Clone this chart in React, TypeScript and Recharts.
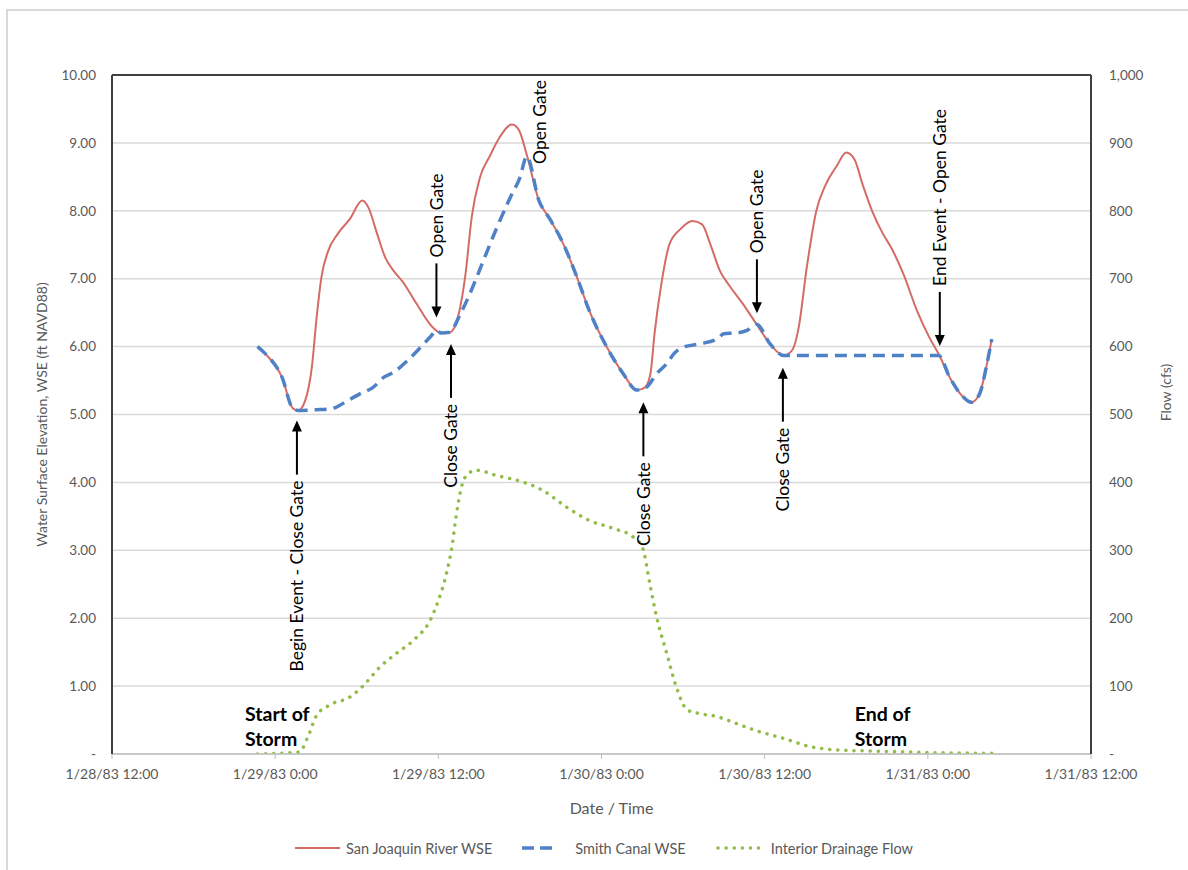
import React from 'react';
import {
  LineChart,
  Line,
  XAxis,
  YAxis,
  CartesianGrid,
  ReferenceLine,
  ReferenceDot,
  Legend,
} from 'recharts';

// ---------- axis ticks ----------
const tickHours = [0, 12, 24, 36, 48, 60, 72];
const tickLabels = [
  '1/28/83 12:00',
  '1/29/83 0:00',
  '1/29/83 12:00',
  '1/30/83 0:00',
  '1/30/83 12:00',
  '1/31/83 0:00',
  '1/31/83 12:00',
];
const wseTicks = [0, 1, 2, 3, 4, 5, 6, 7, 8, 9, 10];
const flowTicks = [0, 100, 200, 300, 400, 500, 600, 700, 800, 900, 1000];

// ---------- series (hours after 1/28/83 12:00) ----------
const riverHours = [
  10.7, 11.25, 12.5, 13.3, 13.7, 14.2, 14.7, 15.05, 15.4, 15.9, 16.6, 17.5, 18.4, 18.85,
  19.5, 20.1, 20.7, 21.4, 22.4, 23.6, 24.2, 24.85, 25.5, 26.0, 26.45, 27.06, 27.8, 28.5,
  29.4, 29.9, 30.5, 31.4, 32.2, 33.2, 34.2, 35.1, 36.4, 37.6, 38.6, 39.2, 39.6, 39.9,
  40.4, 41.0, 41.8, 42.7, 43.4, 44.0, 44.7, 45.4, 46.4, 47.4, 48.4, 49.4, 50.0, 50.5,
  51.1, 51.8, 52.5, 53.3, 54.0, 54.6, 55.2, 55.9, 56.7, 57.3, 58.2, 59.2, 60.1, 60.8,
  61.6, 62.5, 63.2, 63.8, 64.3, 64.7,
];
const riverWSE = [
  6.0, 5.9, 5.55, 5.09, 5.06, 5.2, 5.7, 6.43, 7.02, 7.41, 7.66, 7.88, 8.15, 8.05,
  7.66, 7.31, 7.12, 6.95, 6.63, 6.28, 6.2, 6.21, 6.48, 7.07, 7.9, 8.49, 8.81, 9.08,
  9.27, 9.2, 8.83, 8.15, 7.88, 7.51, 7.02, 6.53, 5.99, 5.6, 5.36, 5.4, 5.6, 6.19,
  6.92, 7.51, 7.73, 7.85, 7.8, 7.51, 7.12, 6.9, 6.63, 6.33, 6.04, 5.87, 5.94, 6.28,
  7.17, 8.0, 8.39, 8.66, 8.86, 8.76, 8.39, 8.0, 7.66, 7.46, 7.07, 6.53, 6.14, 5.89,
  5.55, 5.28, 5.18, 5.3, 5.7, 6.11,
];

const canalHours = [
  10.7, 11.25, 12.5, 13.3, 13.7, 15.05, 16.0, 16.5, 17.3, 18.2, 19.2, 20.0, 20.7, 21.7,
  22.6, 23.4, 23.9, 24.2, 24.85, 25.5, 26.3, 27.3, 28.3, 29.3, 30.0, 30.5, 31.4, 32.2,
  33.2, 34.2, 35.1, 36.4, 37.6, 38.6, 39.3, 40.05, 40.8, 41.3, 42.0, 43.2, 44.5, 45.0,
  45.9, 46.7, 47.4, 48.4, 49.4, 52.0, 56.0, 60.8, 61.6, 62.5, 63.2, 63.8, 64.3, 64.7,
];
const canalWSE = [
  6.0, 5.9, 5.55, 5.09, 5.06, 5.07, 5.08, 5.11, 5.2, 5.3, 5.4, 5.55, 5.62, 5.79,
  5.97, 6.14, 6.24, 6.2, 6.21, 6.43, 6.77, 7.26, 7.75, 8.2, 8.49, 8.8, 8.15, 7.88,
  7.51, 7.02, 6.53, 5.99, 5.6, 5.36, 5.4, 5.6, 5.75, 5.89, 5.99, 6.04, 6.11, 6.19,
  6.2, 6.24, 6.33, 6.04, 5.87, 5.87, 5.87, 5.87, 5.55, 5.28, 5.18, 5.3, 5.7, 6.11,
];

const flowHours = [
  10.7, 13.8, 14.4, 15.05, 16.0, 17.5, 18.5, 19.7, 20.9, 22.2, 23.4, 24.0, 24.6, 25.0,
  25.3, 25.7, 26.2, 26.8, 28.3, 30.3, 31.7, 33.4, 35.1, 36.9, 38.3, 39.0, 39.6, 40.05,
  40.8, 41.5, 42.3, 43.1, 44.5, 45.9, 47.6, 49.4, 51.3, 53.3, 56.7, 60.4, 64.7,
];
const drainageFlow = [
  0, 3, 25, 57, 72, 84, 101, 128, 148, 168, 197, 226, 266, 305,
  349, 393, 413, 418, 410, 400, 388, 364, 344, 332, 320, 305, 246, 202,
  148, 99, 65, 60, 55, 45, 33, 23, 11, 6, 4, 2, 1,
];

// ---------- annotations ----------
const gateNotes = [
  { label: 'Begin Event - Close Gate', hour: 13.6, wse: 4.91, dir: 'up' },
  { label: 'Open Gate', hour: 23.86, wse: 6.43, dir: 'down' },
  { label: 'Close Gate', hour: 24.93, wse: 6.04, dir: 'up' },
  { label: 'Open Gate', hour: 31.45, wse: 8.69, dir: 'none' },
  { label: 'Close Gate', hour: 39.08, wse: 5.18, dir: 'up' },
  { label: 'Open Gate', hour: 47.43, wse: 6.49, dir: 'down' },
  { label: 'Close Gate', hour: 49.34, wse: 5.69, dir: 'up' },
  { label: 'End Event - Open Gate', hour: 60.88, wse: 6.01, dir: 'down' },
];
const stormNotes = [
  { lines: ['Start of', 'Storm'], hour: 9.78, wse: 0.6 },
  { lines: ['End of', 'Storm'], hour: 54.63, wse: 0.6 },
];

const seriesNames = ['San Joaquin River WSE', 'Smith Canal WSE', 'Interior Drainage Flow'];

const FONT = 'Lato, "Open Sans", sans-serif';
const GRAY_TEXT = '#595959';
const RED = '#d46b67';
const BLUE = '#4f81c6';
const GREEN = '#92bc48';

const zip = (h: number[], v: number[]) => h.map((t, i) => ({ t, v: v[i] }));
const riverData = zip(riverHours, riverWSE);
const canalData = zip(canalHours, canalWSE);
const flowData = zip(flowHours, drainageFlow);

const GateNote = (props: any) => {
  const { cx, cy, note } = props;
  const shaft = 54;
  const head = 11;
  const gap = 6;
  const textStyle = { fontFamily: FONT, fontSize: 17.5, fill: '#000' };
  if (note.dir === 'none') {
    return (
      <text
        x={cx}
        y={cy}
        transform={`rotate(-90 ${cx} ${cy})`}
        textAnchor="start"
        dominantBaseline="central"
        style={textStyle}
      >
        {note.label}
      </text>
    );
  }
  if (note.dir === 'up') {
    const ty = cy + shaft + gap;
    return (
      <g>
        <polygon points={`${cx},${cy} ${cx - 5},${cy + head} ${cx + 5},${cy + head}`} fill="#000" />
        <line x1={cx} y1={cy + head - 1} x2={cx} y2={cy + shaft} stroke="#000" strokeWidth={2} />
        <text
          x={cx}
          y={ty}
          transform={`rotate(-90 ${cx} ${ty})`}
          textAnchor="end"
          dominantBaseline="central"
          style={textStyle}
        >
          {note.label}
        </text>
      </g>
    );
  }
  const ty = cy - shaft - gap;
  return (
    <g>
      <polygon points={`${cx},${cy} ${cx - 5},${cy - head} ${cx + 5},${cy - head}`} fill="#000" />
      <line x1={cx} y1={cy - head + 1} x2={cx} y2={cy - shaft} stroke="#000" strokeWidth={2} />
      <text
        x={cx}
        y={ty}
        transform={`rotate(-90 ${cx} ${ty})`}
        textAnchor="start"
        dominantBaseline="central"
        style={textStyle}
      >
        {note.label}
      </text>
    </g>
  );
};

const StormNote = (props: any) => {
  const { cx, cy, note } = props;
  return (
    <g>
      {note.lines.map((ln: string, i: number) => (
        <text
          key={i}
          x={cx}
          y={cy + i * 25}
          textAnchor="start"
          dominantBaseline="central"
          style={{ fontFamily: FONT, fontSize: 19.5, fontWeight: 700, fill: '#000' }}
        >
          {ln}
        </text>
      ))}
    </g>
  );
};

const legendSamples = [
  { color: RED, width: 2, dash: undefined as string | undefined, cap: 'butt', len: 45, gap: 6 },
  { color: BLUE, width: 3.5, dash: '12 6', cap: 'butt', len: 30, gap: 23 },
  { color: GREEN, width: 3.5, dash: '0.1 8', cap: 'round', len: 50, gap: 5 },
];

const renderLegend = () => (
  <div
    style={{
      display: 'flex',
      justifyContent: 'center',
      alignItems: 'center',
      height: 24,
      fontFamily: FONT,
      fontSize: 14.5,
      color: GRAY_TEXT,
      paddingLeft: 20,
      whiteSpace: 'nowrap',
    }}
  >
    {seriesNames.map((name, i) => {
      const s = legendSamples[i];
      return (
        <div key={name} style={{ display: 'flex', alignItems: 'center', marginRight: i < 2 ? 30 : 0 }}>
          <svg width={s.len} height={10} style={{ marginRight: s.gap }}>
            <line
              x1={s.cap === 'round' ? 2 : 0}
              y1={5}
              x2={s.len}
              y2={5}
              stroke={s.color}
              strokeWidth={s.width}
              strokeDasharray={s.dash}
              strokeLinecap={s.cap as any}
            />
          </svg>
          <span>{name}</span>
        </div>
      );
    })}
  </div>
);

export default function App() {
  return (
    <div
      style={{
        position: 'fixed',
        left: 0,
        top: 0,
        width: 1188,
        height: 870,
        overflow: 'hidden',
        background: '#fff',
      }}
    >
      <div
        style={{
          position: 'absolute',
          left: 6,
          top: 9,
          width: 1210,
          height: 890,
          border: '2px solid #d9d9d9',
          boxSizing: 'border-box',
        }}
      />
      <div style={{ position: 'absolute', left: 0, top: 0 }}>
        <LineChart width={1188} height={870} margin={{ top: 75, right: 0, bottom: 10, left: 0 }}>
          <CartesianGrid yAxisId="wse" vertical={false} stroke="#d9d9d9" strokeWidth={1.5} />
          <XAxis
            dataKey="t"
            type="number"
            domain={[0, 72]}
            ticks={tickHours}
            interval={0}
            allowDataOverflow
            height={82}
            tickFormatter={(v: number) => tickLabels[tickHours.indexOf(v)] ?? ''}
            tick={{ fill: GRAY_TEXT, fontSize: 14, fontFamily: FONT }}
            axisLine={{ stroke: '#bfbfbf', strokeWidth: 1.5 }}
            tickLine={{ stroke: '#bfbfbf' }}
            tickSize={5}
            tickMargin={10}
            label={{
              value: 'Date / Time',
              position: 'insideBottom',
              offset: 22,
              dx: 10,
              style: { fill: GRAY_TEXT, fontSize: 16, fontFamily: FONT },
            }}
          />
          <YAxis
            yAxisId="wse"
            orientation="left"
            domain={[0, 10]}
            ticks={wseTicks}
            interval={0}
            width={112}
            allowDataOverflow
            tickFormatter={(v: number) => (v === 0 ? '-' : v.toFixed(2))}
            tick={{ fill: GRAY_TEXT, fontSize: 13.5, fontFamily: FONT }}
            axisLine={{ stroke: '#404040', strokeWidth: 2 }}
            tickLine={false}
            tickSize={0}
            tickMargin={16}
            label={{
              value: 'Water Surface Elevation, WSE (ft NAVD88)',
              angle: -90,
              position: 'center',
              dx: -14,
              style: { fill: GRAY_TEXT, fontSize: 14, fontFamily: FONT, textAnchor: 'middle' },
            }}
          />
          <YAxis
            yAxisId="flow"
            orientation="right"
            domain={[0, 1000]}
            ticks={flowTicks}
            interval={0}
            width={97}
            allowDataOverflow
            tickFormatter={(v: number) => (v === 0 ? '-' : v.toLocaleString('en-US'))}
            tick={{ fill: GRAY_TEXT, fontSize: 13.5, fontFamily: FONT, textAnchor: 'start' }}
            axisLine={{ stroke: '#404040', strokeWidth: 2 }}
            tickLine={false}
            tickSize={0}
            tickMargin={18}
            label={{
              value: 'Flow (cfs)',
              angle: -90,
              position: 'center',
              dx: 27,
              dy: -22,
              style: { fill: GRAY_TEXT, fontSize: 14, fontFamily: FONT, textAnchor: 'middle' },
            }}
          />
          <ReferenceLine yAxisId="wse" y={10} stroke="#404040" strokeWidth={2} />
          <Legend verticalAlign="bottom" height={24} content={renderLegend} />
          <Line
            data={riverData}
            dataKey="v"
            name={seriesNames[0]}
            yAxisId="wse"
            type="monotone"
            stroke={RED}
            strokeWidth={2}
            dot={false}
            activeDot={false}
            isAnimationActive={false}
          />
          <Line
            data={canalData}
            dataKey="v"
            name={seriesNames[1]}
            yAxisId="wse"
            type="monotone"
            stroke={BLUE}
            strokeWidth={3.5}
            strokeDasharray="12 7"
            dot={false}
            activeDot={false}
            isAnimationActive={false}
          />
          <Line
            data={flowData}
            dataKey="v"
            name={seriesNames[2]}
            yAxisId="flow"
            type="monotone"
            stroke={GREEN}
            strokeWidth={3.5}
            strokeDasharray="0.1 8"
            strokeLinecap="round"
            dot={false}
            activeDot={false}
            isAnimationActive={false}
          />
          {gateNotes.map((n, i) => (
            <ReferenceDot
              key={`g${i}`}
              yAxisId="wse"
              x={n.hour}
              y={n.wse}
              r={0}
              shape={(p: any) => <GateNote {...p} note={n} />}
            />
          ))}
          {stormNotes.map((n, i) => (
            <ReferenceDot
              key={`s${i}`}
              yAxisId="wse"
              x={n.hour}
              y={n.wse}
              r={0}
              shape={(p: any) => <StormNote {...p} note={n} />}
            />
          ))}
        </LineChart>
      </div>
    </div>
  );
}
